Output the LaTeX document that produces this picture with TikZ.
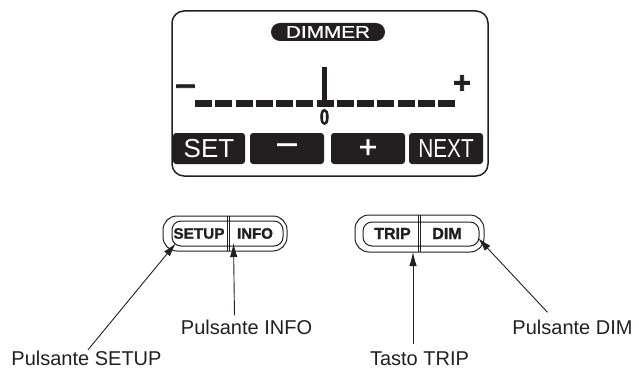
\documentclass[tikz,border=0pt]{standalone}
\usepackage{fontspec}
\setmainfont{Liberation Sans}
\usetikzlibrary{arrows.meta}
\definecolor{ink}{HTML}{231F20}
\begin{document}
\begin{tikzpicture}[x=1pt,y=-1pt,
  lbl/.style={font=\fontsize{20}{22}\selectfont, text=ink, inner sep=0, anchor=base},
  dkey/.style={fill=ink, rounded corners=3pt, minimum height=31pt, text=white, inner sep=0,
               font=\fontsize{26}{27}\selectfont},
  bkey/.style={font=\fontsize{15}{16}\selectfont\bfseries\addfontfeature{FakeBold=1.5}, text=ink, inner sep=0},
  ptr/.style={draw=ink, line width=0.9pt, -{Latex[length=14pt,width=7.5pt]}},
  shell/.style={draw=ink, line width=1pt},
  sym/.style={text=ink, inner sep=0, font=\fontsize{30}{30}\selectfont\bfseries\addfontfeature{FakeBold=2.5}},
]
\useasboundingbox (0,0) rectangle (639,369);
% display
\draw[draw=ink, line width=1.5pt, rounded corners=12pt] (172,11) rectangle (488,176);
\node[fill=ink, rounded corners=9pt, minimum width=114pt, minimum height=18pt, inner sep=0,
      text=white, font=\fontsize{17}{18}\selectfont\addfontfeature{FakeBold=0.8}] (dimmer) at (328,32) {\scalebox{1.22}[1]{DIMMER}};
\foreach \i in {0,...,12} \fill[ink] (195+\i*20.25,100) rectangle ++(17,6.5);
\fill[ink] (322,67) rectangle (327,101);
\node[font=\fontsize{22}{22}\selectfont\bfseries\addfontfeature{FakeBold=2}, text=ink, inner sep=0] (zero) at (324.5,117) {\scalebox{0.75}[1]{0}};
\node[sym] (lminus) at (185.5,89.5) {\scalebox{1.2}[1]{–}};
\node[sym] (lplus) at (462,84) {+};
\node[dkey, minimum width=72pt] (kset) at (209,148.5) {SET};
\node[dkey, minimum width=74pt, font=\fontsize{34}{34}\selectfont\addfontfeature{FakeBold=2}] (kminus) at (287,148.5) {\raisebox{-5.5pt}{–}};
\node[dkey, minimum width=74pt, font=\fontsize{32}{32}\selectfont\addfontfeature{FakeBold=1}] (kplus) at (368,148.5) {+};
\node[dkey, minimum width=74pt] (knext) at (446,148.5) {\scalebox{0.8}[1]{NEXT}};
% lower buttons, group 1
\draw[shell, rounded corners=14pt] (163,216) rectangle (287,251);
\draw[shell, rounded corners=9pt] (172,221) rectangle (283,246);
\draw[shell, line width=0.7pt] (227,216) -- (227,251) (229.5,216) -- (229.5,251);
\node[bkey] (setup) at (199,233.5) {\scalebox{1.02}[1]{SETUP}};
\node[bkey] (info) at (255,233.5) {INFO};
% group 2
\draw[shell, rounded corners=14pt] (355,215) rectangle (484,252);
\draw[shell, rounded corners=9pt] (363,222) rectangle (479,246);
\draw[shell, line width=0.7pt] (418,215) -- (418,252) (420.5,215) -- (420.5,252);
\node[bkey, font=\fontsize{16}{17}\selectfont\bfseries\addfontfeature{FakeBold=1.5}] (trip) at (392.5,233.5) {TRIP};
\node[bkey, font=\fontsize{16}{17}\selectfont\bfseries\addfontfeature{FakeBold=1.5}] (dim) at (447,233.5) {DIM};
% labels
\node[lbl] (lsetup) at (86.5,365.5) {Pulsante SETUP};
\node[lbl] (linfo) at (246.5,334) {Pulsante INFO};
\node[lbl] (ltrip) at (419.5,365) {Tasto TRIP};
\node[lbl] (ldim) at (572.5,334) {Pulsante DIM};
% arrow tips
\coordinate (tsetup) at (176,243);
\coordinate (tinfo) at (233.5,243);
\coordinate (ttrip) at (413,252);
\coordinate (tdim) at (478,238);
\draw[ptr] ([xshift=1.5pt,yshift=1pt]lsetup.north) -- (tsetup);
\draw[ptr] ([xshift=-12pt,yshift=4pt]linfo.north) -- (tinfo);
\draw[ptr] ([xshift=-6.5pt,yshift=7pt]ltrip.north) -- (ttrip);
\draw[ptr] ([xshift=-25pt,yshift=7pt]ldim.north) -- (tdim);
\end{tikzpicture}
\end{document}
